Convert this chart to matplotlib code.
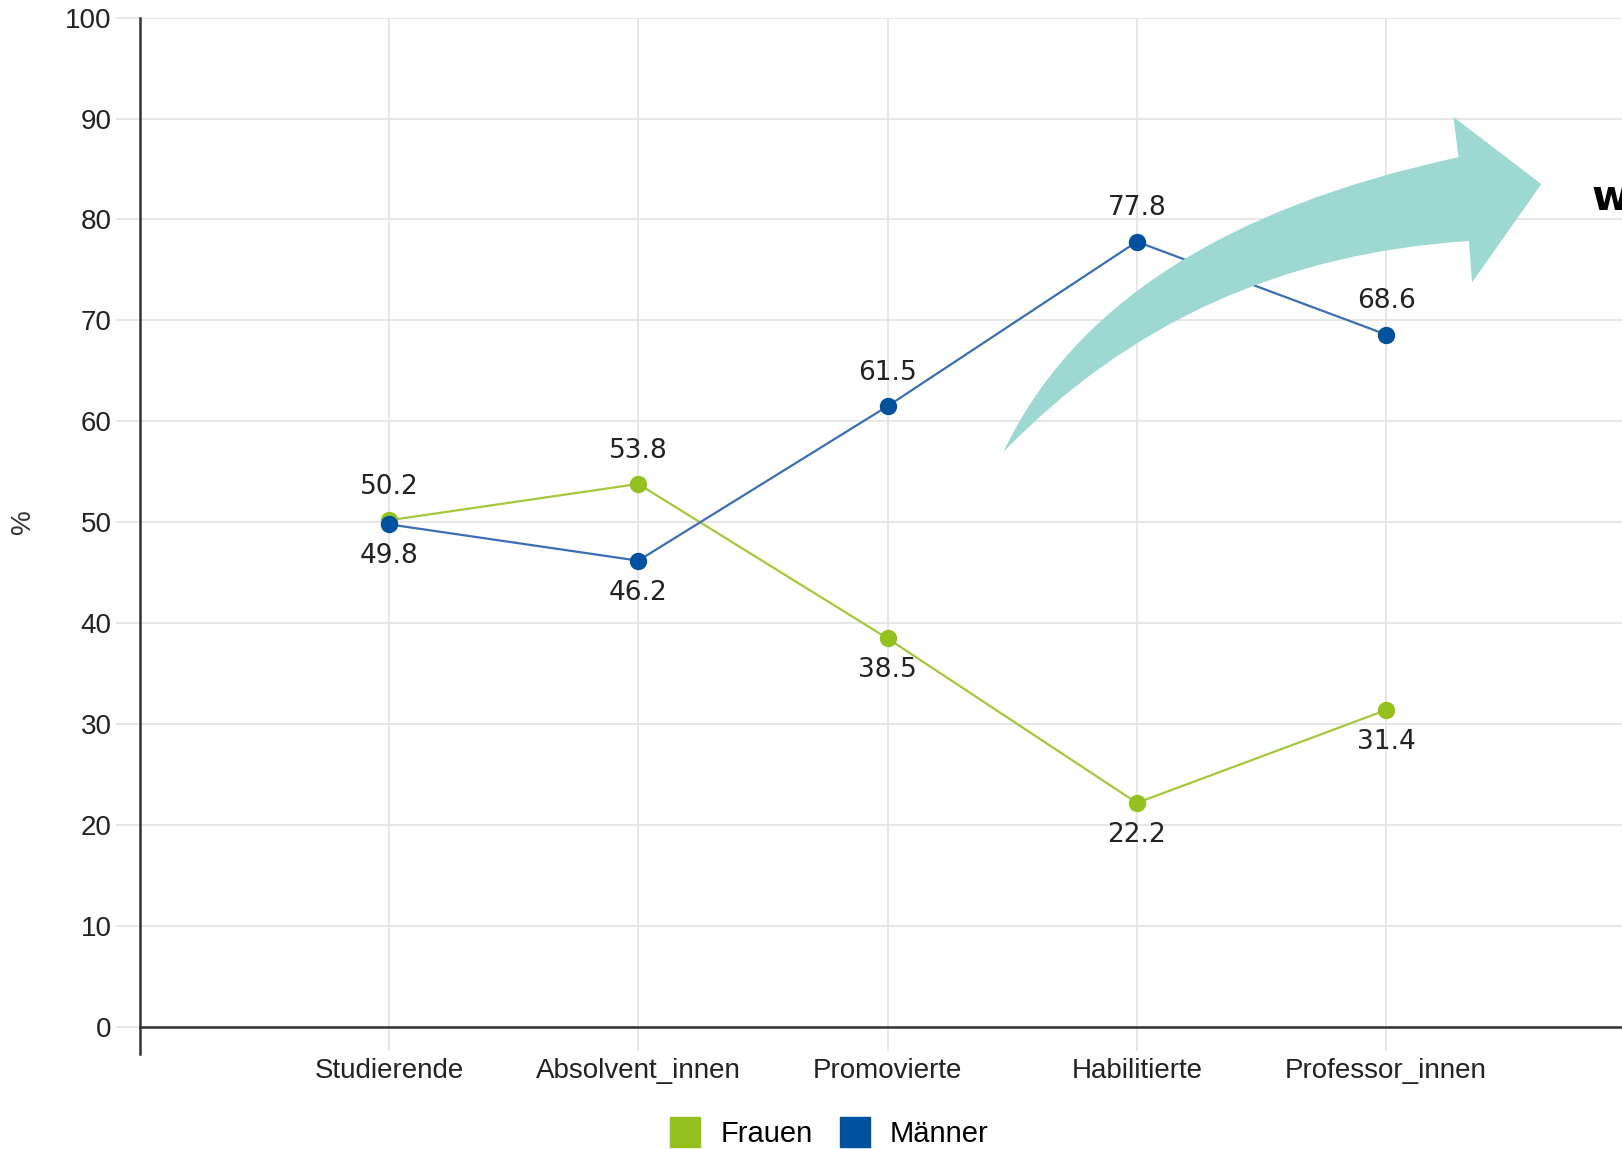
import matplotlib
matplotlib.use('Agg')
import matplotlib.pyplot as plt
from matplotlib.path import Path
from matplotlib.patches import PathPatch
from matplotlib.lines import Line2D

categories = ['Studierende', 'Absolvent_innen', 'Promovierte', 'Habilitierte', 'Professor_innen']
frauen = [50.2, 53.8, 38.5, 22.2, 31.4]
maenner = [49.8, 46.2, 61.5, 77.8, 68.6]

GREEN = '#95c11f'
GREEN_LINE = '#a3c93a'
BLUE = '#00519e'
BLUE_LINE = '#3a6fb5'
GRID = '#e3e3e3'
W, H = 1622, 1149

fig = plt.figure(figsize=(W / 100, H / 100), dpi=100)
ax = fig.add_axes([139.6 / W, 1 - 1027 / H, 1 - 139.6 / W, (1027 - 17.6) / H])

x = list(range(len(categories)))
ax.plot(x, frauen, color=GREEN_LINE, lw=1.6, zorder=3)
ax.plot(x, maenner, color=BLUE_LINE, lw=1.6, zorder=3)
ax.plot(x, frauen, ls='none', marker='o', ms=11.5, mfc=GREEN, mec=GREEN, zorder=4)
ax.plot(x, maenner, ls='none', marker='o', ms=11.5, mfc=BLUE, mec=BLUE, zorder=4)

for i in x:
    for v, other in ((frauen[i], maenner[i]), (maenner[i], frauen[i])):
        off = 24 if v >= other else -23
        ax.annotate(f'{v:.1f}', (i, v), xytext=(0, off), textcoords='offset points',
                    ha='center', va='center', fontsize=19, color='#222222',
                    family='DejaVu Sans')

ax.set_xlim(-1, (W - 388) / 249.5)
ax.set_ylim(0, 100)
ax.set_yticks(range(0, 101, 10))
ax.set_xticks(x, categories)
ax.grid(True, color=GRID, lw=1.2)
ax.set_axisbelow(True)
for s in ('top', 'right'):
    ax.spines[s].set_visible(False)
for s in ('left', 'bottom'):
    ax.spines[s].set_color('#333333')
    ax.spines[s].set_linewidth(1.8)
ax.tick_params(axis='both', length=17, width=1.2, color=GRID, labelsize=20,
               labelcolor='#222222', pad=3)
ax.tick_params(axis='x', pad=5)
ax.yaxis.get_major_ticks()[0].tick1line.set_color('#333333')
for lab in ax.get_xticklabels() + ax.get_yticklabels():
    lab.set_family('Liberation Sans')
fig.text(23 / W, 1 - 522 / H, '%', rotation=90, fontsize=20, color='#333333',
         family='Liberation Sans', ha='center', va='center')

# left spine runs a bit below the x axis
ax.add_line(Line2D([0, 0], [0, -0.0265], transform=ax.transAxes, color='#333333',
                   lw=1.8, clip_on=False))

handles = [Line2D([], [], ls='none', marker='s', ms=21, mfc=GREEN, mec=GREEN),
           Line2D([], [], ls='none', marker='s', ms=21, mfc=BLUE, mec=BLUE)]
fig.legend(handles, ['Frauen', 'Männer'], loc='center', bbox_to_anchor=(0.507, 0.013),
           ncol=2, frameon=False, handletextpad=0.2, columnspacing=0.45,
           prop={'family': 'Liberation Sans', 'size': 21})

# curved teal arrow (decoration)
s = 1622 / 1568
pts = [(970, 437), (1070, 225), (1410, 152), (1405, 113), (1490, 178),
       (1423, 273), (1420, 233), (1150, 250), (970, 437), (970, 437)]
codes = [Path.MOVETO, Path.CURVE3, Path.CURVE3, Path.LINETO, Path.LINETO,
         Path.LINETO, Path.LINETO, Path.CURVE3, Path.CURVE3, Path.CLOSEPOLY]
verts = [(px * s / W, 1 - py * s / H) for px, py in pts]
fig.patches.append(PathPatch(Path(verts, codes), transform=fig.transFigure,
                             facecolor='#9dd8d2', edgecolor='none', zorder=10))

fig.text(1592 / W, 1 - 198 / H, 'w', fontsize=30, fontweight='bold', va='center',
         ha='left', color='black', family='DejaVu Sans')

fig.savefig('out.png', dpi=100)
